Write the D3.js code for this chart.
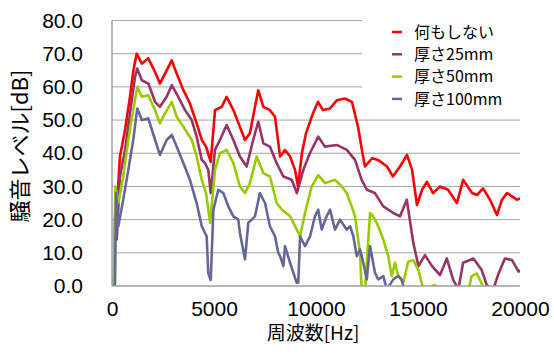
<!DOCTYPE html>
<html>
<head>
<meta charset="utf-8">
<script src="https://cdn.jsdelivr.net/npm/d3@7"></script>
<style>
    body { margin: 0; background: #fff; }
    svg { display: block; }
</style>
</head>
<body>
<script>
// [Hz, dB] pairs
const noTreatment = [
    [100, 12], [250, 25], [390, 39], [640, 47], [880, 57], [1050, 65], [1210, 70], [1460, 67],
    [1780, 68.6], [2110, 64.5], [2350, 61], [2600, 64], [2930, 68], [3170, 64], [3500, 59],
    [3820, 55], [4150, 49], [4400, 44], [4610, 42], [4840, 37.4], [5050, 53], [5380, 54],
    [5620, 57], [5950, 53], [6270, 48], [6520, 44], [6760, 46], [7010, 54], [7170, 59],
    [7420, 54], [7740, 53], [7990, 51], [8240, 39], [8480, 41], [8730, 39], [8970, 35],
    [9120, 30], [9310, 40], [9510, 46], [9850, 52], [10100, 55.5], [10340, 53], [10690, 53.5],
    [11030, 56], [11420, 56.5], [11760, 55.5], [12060, 48], [12250, 41], [12400, 36],
    [12750, 38.5], [13040, 38], [13480, 36], [13770, 33], [14120, 36], [14460, 39.5],
    [14710, 35], [14950, 24.4], [15200, 29], [15440, 31.4], [15740, 28], [16080, 30],
    [16470, 29], [16910, 25], [17210, 32], [17650, 28], [17890, 27.4], [18190, 29.4],
    [18530, 26], [18870, 21.4], [19120, 26], [19360, 28], [19610, 27], [19850, 26], [20000, 26.4]
]
const thick25 = [
    [100, 8], [150, 21], [230, 14], [390, 33], [640, 41], [880, 52], [1130, 63], [1240, 65.5],
    [1460, 62], [1780, 61], [2110, 55.5], [2350, 54], [2680, 57], [2930, 60.5], [3250, 57],
    [3580, 53], [3910, 50], [4150, 45], [4400, 38], [4560, 37], [4720, 35], [4840, 28],
    [5050, 41], [5290, 44], [5620, 48.5], [5950, 44], [6270, 39], [6600, 36], [6920, 44],
    [7170, 49.5], [7420, 43], [7740, 42], [8070, 37], [8400, 33], [8810, 32], [9060, 28],
    [9380, 35], [9700, 40], [10110, 45], [10440, 42], [11020, 42.5], [11510, 41], [11910, 38],
    [12240, 32], [12490, 29], [12890, 28], [13300, 24], [13790, 22], [14120, 21], [14450, 26],
    [14770, 13], [15020, 6], [15340, 9.3], [15690, 6], [16080, 3.3], [16410, 8.3], [16730, 1.8],
    [16980, -1], [17210, 7], [17720, 8.3], [18120, 4.8], [18370, 0.3], [18690, -1],
    [18950, 3.8], [19260, 8.3], [19610, 7.8], [19930, 4.3], [20000, 4.8]
]
const thick50 = [
    [50, -1], [100, 8], [170, 30], [310, 25], [550, 33], [800, 44], [1040, 53], [1240, 60],
    [1460, 57], [1780, 57.5], [2110, 53], [2350, 49], [2600, 52], [2930, 55.5], [3170, 51],
    [3500, 48], [3910, 44], [4150, 39], [4400, 32], [4610, 28], [4810, 19], [5050, 35],
    [5290, 40], [5620, 41], [5950, 37], [6270, 30], [6520, 28], [6760, 31], [7090, 39],
    [7420, 34], [7740, 33], [8070, 25], [8330, 23], [8730, 21], [9060, 17], [9220, 15],
    [9460, 22], [9790, 30], [10110, 33.4], [10440, 31], [10930, 32], [11260, 30], [11500, 28],
    [11750, 24], [11910, 21], [12000, 17], [12160, 10], [12240, -2], [12400, -2], [12490, 7],
    [12650, 22], [12810, 21], [13050, 18], [13300, 14], [13540, 9], [13710, 3], [13870, 7],
    [14030, 3], [14280, 1], [14520, 7.3], [14770, 7.8], [15020, 4.8], [15260, -1],
    [15830, 0.3], [16080, -2], [17450, -2], [17630, 3], [17880, 3.8], [18120, 0.8],
    [18280, -2], [20000, -2]
]
const thick100 = [
    [50, -2], [150, 1], [200, 28], [310, 18], [550, 26], [800, 35], [1040, 44], [1240, 53.5],
    [1460, 50], [1780, 50.5], [2110, 44], [2350, 39.5], [2680, 44], [2930, 45.5], [3170, 42],
    [3500, 37], [3820, 32], [4150, 25], [4400, 18], [4640, 15], [4720, 3.8], [4840, 1.8],
    [4970, 23], [5210, 29], [5460, 28], [5700, 24], [5950, 21], [6190, 20], [6270, 16],
    [6520, 8], [6680, 19], [7010, 21], [7250, 28], [7500, 25], [7740, 18], [7990, 15],
    [8150, 10], [8240, 9], [8400, 6], [8480, 12], [8730, 7], [8890, 4], [9050, 1], [9130, 1],
    [9220, 15], [9460, 12], [9710, 15], [9950, 21], [10110, 23], [10280, 17], [10520, 21],
    [10690, 23], [10930, 17], [11180, 20], [11500, 17], [11670, 18], [11830, 15], [12000, 9],
    [12160, 11], [12320, 7], [12490, 2], [12650, 12], [12890, 4], [13050, 2], [13300, 3],
    [13470, -1], [13790, 2], [14030, 3], [14200, 2], [14360, -2], [20000, -2]
]

const seriesNames = ['何もしない', '厚さ25mm', '厚さ50mm', '厚さ100mm']
const seriesColors = ['#ff0000', '#993366', '#99cc00', '#666699']
const seriesData = [noTreatment, thick25, thick50, thick100]

const xTicks = [0, 5000, 10000, 15000, 20000]
const yTicks = [0, 10, 20, 30, 40, 50, 60, 70, 80]
const xTitle = '周波数[Hz]'
const yTitle = '騒音レベル[dB]'

const width = 554
const height = 358
const plot = {left: 112, right: 520, top: 20.5, bottom: 286}
const numFont = '"Liberation Sans", Arial, sans-serif'
const jpFont = '"Noto Sans CJK JP", "Noto Sans", sans-serif'

const x = d3.scaleLinear().domain([0, 20000]).range([plot.left, plot.right])
const y = d3.scaleLinear().domain([0, 80]).range([plot.bottom, plot.top])

const svg = d3.select('body').append('svg')
    .attr('width', width)
    .attr('height', height)

svg.append('defs').append('clipPath')
    .attr('id', 'plot-clip')
    .append('rect')
    .attr('x', plot.left)
    .attr('y', plot.top - 5)
    .attr('width', plot.right - plot.left)
    .attr('height', plot.bottom - plot.top + 5)

// gridlines
svg.append('g')
    .selectAll('line')
    .data(yTicks.filter(d => d > 0))
    .join('line')
    .attr('x1', plot.left)
    .attr('x2', plot.right)
    .attr('y1', d => y(d))
    .attr('y2', d => y(d))
    .attr('stroke', '#a6a6a6')
    .attr('stroke-width', 1)

const line = d3.line()
    .x(d => x(d[0]))
    .y(d => y(d[1]))

svg.append('g')
    .attr('clip-path', 'url(#plot-clip)')
    .attr('fill', 'none')
    .attr('stroke-linejoin', 'round')
    .selectAll('path')
    .data(seriesData)
    .join('path')
    .attr('d', line)
    .attr('stroke', (d, i) => seriesColors[i])
    .attr('stroke-width', 2.6)

// axis lines
svg.append('line')
    .attr('x1', plot.left).attr('x2', plot.left)
    .attr('y1', plot.top).attr('y2', plot.bottom)
    .attr('stroke', '#a0a0a0').attr('stroke-width', 1.5)
svg.append('line')
    .attr('x1', plot.left).attr('x2', plot.right)
    .attr('y1', plot.bottom).attr('y2', plot.bottom)
    .attr('stroke', '#a0a0a0').attr('stroke-width', 1.5)

const yAxis = svg.append('g')
    .attr('transform', `translate(${plot.left},0)`)
    .call(d3.axisLeft(y).tickValues(yTicks).tickFormat(d3.format('.1f')).tickSize(0).tickPadding(29))
yAxis.select('.domain').remove()
yAxis.selectAll('text')
    .attr('font-family', numFont)
    .attr('font-size', 21)
    .attr('fill', '#000')

const xAxis = svg.append('g')
    .attr('transform', `translate(0,${plot.bottom})`)
    .call(d3.axisBottom(x).tickValues(xTicks).tickFormat(d3.format('d')).tickSize(0).tickPadding(15))
xAxis.select('.domain').remove()
xAxis.selectAll('text')
    .attr('font-family', numFont)
    .attr('font-size', 21)
    .attr('fill', '#000')

svg.append('text')
    .attr('x', 313)
    .attr('y', 340)
    .attr('text-anchor', 'middle')
    .attr('font-family', jpFont)
    .attr('font-size', 19)
    .text(xTitle)

svg.append('text')
    .attr('transform', 'translate(28,146) rotate(-90)')
    .attr('text-anchor', 'middle')
    .attr('font-family', jpFont)
    .attr('font-size', 22)
    .text(yTitle)

// legend
const legend = svg.append('g')
legend.append('rect')
    .attr('x', 362).attr('y', 12)
    .attr('width', 192).attr('height', 98)
    .attr('fill', '#fff')
const legendRow = legend.selectAll('g')
    .data(seriesNames)
    .join('g')
    .attr('transform', (d, i) => `translate(392,${32 + i * 22.3})`)
legendRow.append('line')
    .attr('x1', 0).attr('x2', 10)
    .attr('stroke', (d, i) => seriesColors[i])
    .attr('stroke-width', 2.5)
legendRow.append('text')
    .attr('x', 22)
    .attr('dy', '0.35em')
    .attr('font-family', jpFont)
    .attr('font-size', 16)
    .text(d => d)
</script>
</body>
</html>
